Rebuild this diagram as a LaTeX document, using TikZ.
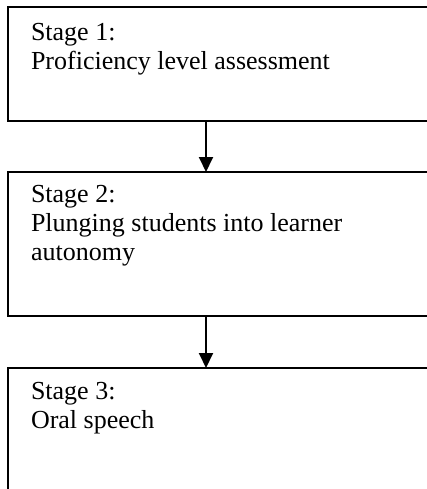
\documentclass[tikz,border=0pt]{standalone}
\usepackage{fontspec}
\setmainfont{Liberation Serif}
\usetikzlibrary{positioning,arrows.meta}

\tikzset{
  stagebox/.style={draw, line width=2pt, outer sep=0pt, inner sep=0pt, minimum width=460pt},
  stagetext/.style={anchor=base west, align=left, inner sep=0pt, font=\fontsize{26pt}{29pt}\selectfont},
}

\begin{document}
\begin{tikzpicture}[x=1pt,y=1pt,>={Triangle[length=15pt,width=14pt]}, line width=2pt]

		% page frame, the boxes run off the right and bottom edges
		\useasboundingbox (0,0) rectangle (427,-489);
		\clip (0,0) rectangle (427,-489);

		% the three stages
		\node[stagebox, anchor=north west, minimum height=114pt] (stage1) at (8,-7) {};
		\node[stagebox, below=51pt of stage1, minimum height=144pt] (stage2) {};
		\node[stagebox, below=52pt of stage2, minimum height=150pt] (stage3) {};

		% texts in the boxes (base = last line)
		\node[stagetext] (text1) at ([shift={(22pt,-63pt)}]stage1.north west) {Stage 1:\\Proficiency level assessment};
		\node[stagetext] (text2) at ([shift={(22pt,-88pt)}]stage2.north west) {Stage 2:\\Plunging students into learner\\autonomy};
		\node[stagetext] (text3) at ([shift={(22pt,-60pt)}]stage3.north west) {Stage 3:\\Oral speech};

		% arrows between stages
		\draw[->] ([xshift=198pt]stage1.south west) -- ([xshift=198pt]stage2.north west);
		\draw[->] ([xshift=198pt]stage2.south west) -- ([xshift=198pt]stage3.north west);

	\end{tikzpicture}
\end{document}
